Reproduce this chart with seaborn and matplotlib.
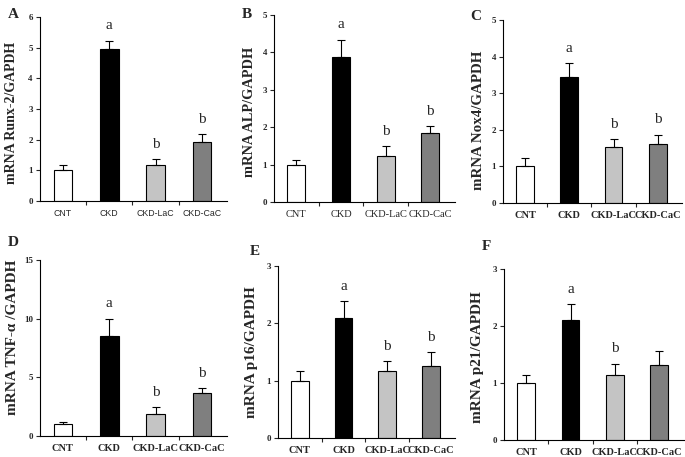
import matplotlib
matplotlib.use("Agg")
import matplotlib.pyplot as plt
from matplotlib.ticker import FixedLocator
import seaborn as sns
import pandas as pd

groups = ["CNT", "CKD", "CKD-LaC", "CKD-CaC"]

runx2_mean = [1.0, 4.95, 1.18, 1.92]
runx2_err = [0.16, 0.28, 0.18, 0.25]
alp_mean = [1.0, 3.87, 1.24, 1.84]
alp_err = [0.13, 0.47, 0.25, 0.18]
nox4_mean = [1.0, 3.45, 1.52, 1.62]
nox4_err = [0.22, 0.38, 0.23, 0.25]
tnf_mean = [1.0, 8.5, 1.9, 3.7]
tnf_err = [0.22, 1.5, 0.55, 0.4]
p16_mean = [1.0, 2.1, 1.16, 1.26]
p16_err = [0.17, 0.28, 0.18, 0.24]
p21_mean = [1.0, 2.1, 1.15, 1.31]
p21_err = [0.15, 0.28, 0.19, 0.25]

letters_abc = ["", "a", "b", "b"]
letters_f = ["", "a", "b", ""]

ylabels = ["mRNA Runx-2/GAPDH", "mRNA ALP/GAPDH", "mRNA Nox4/GAPDH",
           "mRNA TNF-\u03b1 /GAPDH", "mRNA p16/GAPDH", "mRNA p21/GAPDH"]
panel_tags = ["A", "B", "C", "D", "E", "F"]
yticks_list = [[0, 1, 2, 3, 4, 5, 6], [0, 1, 2, 3, 4, 5], [0, 1, 2, 3, 4, 5],
               [0, 5, 10, 15], [0, 1, 2, 3], [0, 1, 2, 3]]

bar_colors = ["#ffffff", "#000000", "#c4c4c4", "#7f7f7f"]

sns.set_style("ticks")
plt.rcParams["font.family"] = ["Liberation Serif", "DejaVu Serif"]

fig = plt.figure(figsize=(6.85, 4.57), dpi=100)

axes_rects = [
    (0.058, 0.560, 0.274, 0.403),
    (0.400, 0.558, 0.264, 0.409),
    (0.734, 0.556, 0.262, 0.400),
    (0.058, 0.046, 0.274, 0.385),
    (0.406, 0.042, 0.258, 0.376),
    (0.736, 0.037, 0.262, 0.374),
]
label_coords = [(-0.115, 0.48), (-0.10, 0.48), (-0.10, 0.45),
                (-0.11, 0.56), (-0.113, 0.50), (-0.11, 0.485)]
label_sizes = [10, 10.4, 10.8, 11, 11, 11]
tag_pos = [(8, 15), (242, 15), (470, 17), (8, 243), (250, 251), (482, 246)]

panels = [
    (runx2_mean, runx2_err, letters_abc),
    (alp_mean, alp_err, letters_abc),
    (nox4_mean, nox4_err, letters_abc),
    (tnf_mean, tnf_err, letters_abc),
    (p16_mean, p16_err, letters_abc),
    (p21_mean, p21_err, letters_f),
]

for i, (means, errs, letters) in enumerate(panels):
    ax = fig.add_axes(axes_rects[i])
    df = pd.DataFrame({"group": groups, "value": means})
    sns.barplot(data=df, x="group", y="value", hue="group", palette=bar_colors,
                order=groups, hue_order=groups, edgecolor="black", linewidth=0.8,
                width=0.4, errorbar=None, legend=False, ax=ax)
    ax.errorbar(x=list(range(len(groups))), y=means,
                yerr=[[0] * len(errs), errs], fmt="none", ecolor="black",
                elinewidth=0.8, capsize=3, capthick=0.8)
    ticks = yticks_list[i]
    ax.set_ylim(ticks[0], ticks[-1])
    ax.set_yticks(ticks)
    ax.set_yticklabels([str(t) for t in ticks], fontsize=6.5, fontweight="bold")
    ax.set_xlim(-0.5, 3.55)
    ax.xaxis.set_minor_locator(FixedLocator([0.5, 1.5, 2.5]))
    ax.tick_params(axis="x", which="major", length=0, pad=6)
    ax.tick_params(axis="x", which="minor", length=3, width=0.8, direction="out")
    ax.tick_params(axis="y", length=3, width=0.8, pad=2)
    ax.set_xticks(range(4))
    if i == 0:
        ax.set_xticklabels(groups, fontsize=6.3, family=["Liberation Sans"])
    elif i == 1:
        ax.set_xticklabels(groups, fontsize=7.5)
    else:
        ax.set_xticklabels(groups, fontsize=7.5, fontweight="bold")
    ax.set_xlabel("")
    ax.set_ylabel(ylabels[i], fontsize=label_sizes[i], fontweight="bold")
    ax.yaxis.set_label_coords(*label_coords[i])
    for sp in ["top", "right"]:
        ax.spines[sp].set_visible(False)
    for sp in ["left", "bottom"]:
        ax.spines[sp].set_linewidth(0.8)
        ax.spines[sp].set_color("black")
    for x, (m, e, lab) in enumerate(zip(means, errs, letters)):
        if lab:
            ax.annotate(lab, xy=(x, m + e), xytext=(0, 6), textcoords="offset points",
                        ha="center", va="bottom", fontsize=11)
    fx, fy = tag_pos[i]
    fig.text(fx / 685, 1 - fy / 457, panel_tags[i], fontsize=11, fontweight="bold",
             ha="left", va="center")

fig.savefig("out.png", dpi=100)
